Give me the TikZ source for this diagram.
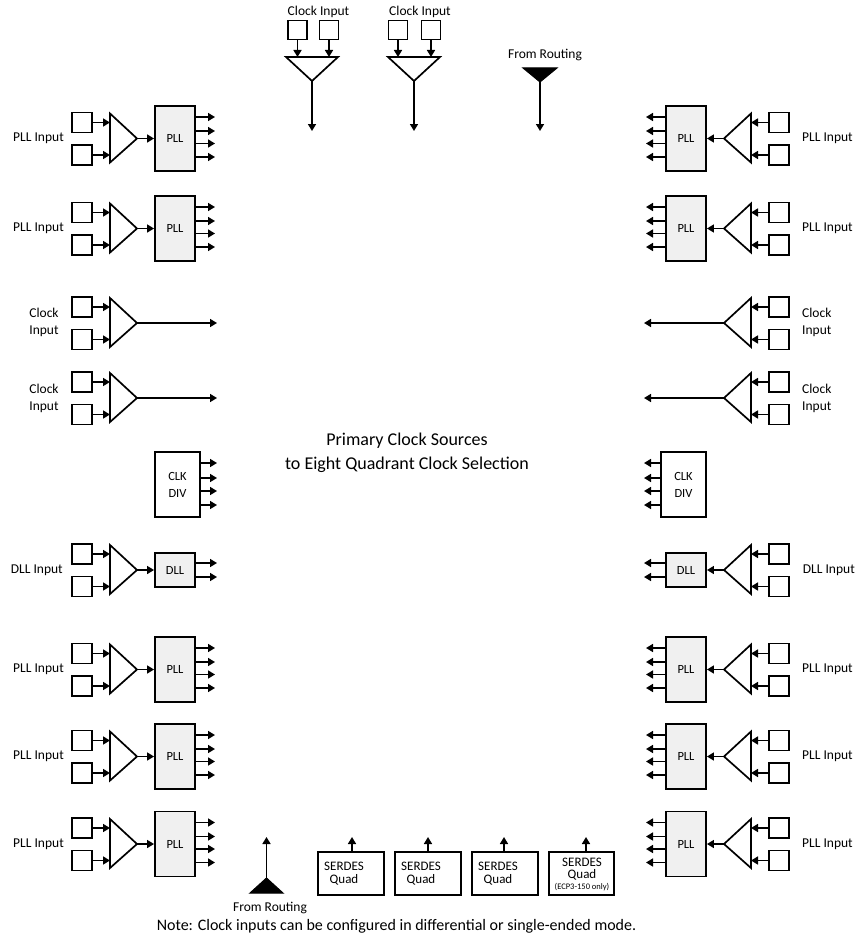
\documentclass[tikz,border=0pt]{standalone}
\usepackage{fontspec}
\setmainfont{Carlito}
\usetikzlibrary{arrows.meta}
% input stage: two pads and an amplifier; #1 name, #2 row y, #3 anchor of the pads facing the amplifier
\newcommand\instage[3]{%
  \node[insq] (#1a) at (82,#2-16) {};
  \node[insq] (#1b) at (82,#2+16.5) {};
  \coordinate (#1u) at (110,#2-25);
  \coordinate (#1d) at (110,#2+24);
  \coordinate (#1p) at (137,#2);
  \draw[amp] (#1u) -- (#1p) -- (#1d) -- cycle;
  \draw[arr] (#1a.#3) -- (#1a.#3 -| #1u);
  \draw[arr] (#1b.#3) -- (#1b.#3 -| #1u);
}
% PLL block: #1 name, #2 row y, #3 input anchor, #4 output anchor
\newcommand\pllbox[4]{%
  \node[pllb] (#1box) at (175,#2) {PLL};
  \draw[arr] (#1p) -- (#1box.#3);
  \foreach \dy [count=\k] in {-21.5,-7.5,5,18.5} {
    \coordinate (#1o\k) at (215,#2+\dy);
    \draw[arr] (#1box.#4 |- #1o\k) -- (#1o\k);
  }
}
% one whole side; #1 prefix, #2 anchor towards the centre, #3 anchor away from it
\newcommand\sideblocks[3]{%
  \instage{#1a}{138.5}{#2}\pllbox{#1a}{138.5}{#3}{#2}
  \instage{#1b}{228.5}{#2}\pllbox{#1b}{228.5}{#3}{#2}
  \instage{#1c}{323}{#2}
  \coordinate (#1ce) at (217,323); \draw[arr] (#1cp) -- (#1ce);
  \instage{#1d}{398}{#2}
  \coordinate (#1de) at (217,398); \draw[arr] (#1dp) -- (#1de);
  \node[divb] (#1div) at (177.5,484.5) {CLK\\DIV};
  \foreach \dy [count=\k] in {-21.5,-6.5,6.5,20.5} {
    \coordinate (#1dv\k) at (217,484.5+\dy);
    \draw[arr] (#1div.#2 |- #1dv\k) -- (#1dv\k);
  }
  \instage{#1e}{570}{#2}
  \node[pllb,minimum height=34pt] (#1ebox) at (175,570) {DLL};
  \draw[arr] (#1ep) -- (#1ebox.#3);
  \foreach \dy [count=\k] in {-7,7} {
    \coordinate (#1eo\k) at (217,570+\dy);
    \draw[arr] (#1ebox.#2 |- #1eo\k) -- (#1eo\k);
  }
  \instage{#1f}{669.5}{#2}\pllbox{#1f}{669.5}{#3}{#2}
  \instage{#1g}{756.5}{#2}\pllbox{#1g}{756.5}{#3}{#2}
  \instage{#1h}{844}{#2}\pllbox{#1h}{844}{#3}{#2}
}
\begin{document}
\begin{tikzpicture}[x=1pt,y=-1pt,
  arr/.style={line width=1.6pt,-{Triangle[length=7pt,width=8pt]}},
  insq/.style={draw,line width=1.7pt,minimum size=20pt,inner sep=0pt},
  amp/.style={draw,line width=1.7pt,line join=miter},
  pllb/.style={draw,line width=1.9pt,fill=black!6,minimum width=40pt,minimum height=65pt,inner sep=0pt,font=\fontsize{12.5}{15}\selectfont},
  divb/.style={draw,line width=1.9pt,fill=white,minimum width=45pt,minimum height=65pt,inner sep=0pt,align=center,font=\fontsize{12.5}{17}\selectfont},
  serb/.style={draw,line width=1.9pt,minimum width=66pt,minimum height=43pt,inner sep=0pt},
  sertxt/.style={inner sep=0pt,align=center,font=\fontsize{13}{13}\selectfont},
  lab/.style={inner sep=0pt,font=\fontsize{13.5}{17}\selectfont},
  route/.style={fill=black,draw=black,line width=1pt,line join=miter}
]
\path[use as bounding box,fill=white] (0,0) rectangle (856,942);

% left side
\sideblocks{L}{east}{west}
% right side (mirror image)
\begin{scope}[shift={(861,0)},xscale=-1]
\sideblocks{R}{west}{east}
\end{scope}

% side labels
\foreach \y [count=\k] in {138.5,228.5,669.5,756.5,844} {
  \node[lab,anchor=east] (lpl\k) at (64,\y) {PLL Input};
  \node[lab,anchor=west] (rpl\k) at (802,\y) {PLL Input};
}
\node[lab,align=center] (lcl1) at (44,322.5) {Clock\\Input};
\node[lab,align=center] (lcl2) at (44,398.5) {Clock\\Input};
\node[lab,align=left,anchor=west] (rcl1) at (802,322.5) {Clock\\Input};
\node[lab,align=left,anchor=west] (rcl2) at (802,398.5) {Clock\\Input};
\node[lab,anchor=east] (ldl) at (63,570) {DLL Input};
\node[lab,anchor=east] (rdl) at (855,570) {DLL Input};

% top clock inputs
\node[insq,minimum size=19pt] (t1a) at (297.5,30) {};
\node[insq,minimum size=19pt] (t1b) at (329,30) {};
\coordinate (t1l) at (286,57); \coordinate (t1r) at (338,57); \coordinate (t1p) at (312,81);
\draw[amp] (t1l) -- (t1r) -- (t1p) -- cycle;
\draw[arr] (t1a.south) -- (t1a.south |- t1l);
\draw[arr] (t1b.south) -- (t1b.south |- t1l);
\coordinate (t1e) at (312,131); \draw[arr] (t1p) -- (t1e);
\node[lab] (t1lab) at (318.5,12) {Clock Input};

\node[insq,minimum size=19pt] (t2a) at (398,30) {};
\node[insq,minimum size=19pt] (t2b) at (431,30) {};
\coordinate (t2l) at (388,57); \coordinate (t2r) at (440,57); \coordinate (t2p) at (414,81);
\draw[amp] (t2l) -- (t2r) -- (t2p) -- cycle;
\draw[arr] (t2a.south) -- (t2a.south |- t2l);
\draw[arr] (t2b.south) -- (t2b.south |- t2l);
\coordinate (t2e) at (414,131); \draw[arr] (t2p) -- (t2e);
\node[lab] (t2lab) at (420,12) {Clock Input};

% top routing
\coordinate (r1l) at (523,68); \coordinate (r1r) at (557,68); \coordinate (r1p) at (540,82);
\draw[route] (r1l) -- (r1r) -- (r1p) -- cycle;
\coordinate (r1e) at (540,131); \draw[arr] (r1p) -- (r1e);
\node[lab] (r1lab) at (545,55) {From Routing};

% bottom routing
\coordinate (r2l) at (250,893); \coordinate (r2r) at (283,893); \coordinate (r2p) at (266.5,878);
\draw[route] (r2l) -- (r2r) -- (r2p) -- cycle;
\coordinate (r2e) at (266.5,837); \draw[arr] (r2p) -- (r2e);
\node[lab] (r2lab) at (270,908) {From Routing};

% SERDES quads
\node[serb] (s1) at (351,873.5) {};
\node[serb] (s2) at (428,873.5) {};
\node[serb] (s3) at (505,873.5) {};
\node[serb,minimum width=65pt] (s4) at (581.5,873.5) {};
\node[sertxt] (s1t) at (344,873.5) {SERDES\\Quad};
\node[sertxt] (s2t) at (421,873.5) {SERDES\\Quad};
\node[sertxt] (s3t) at (498,873.5) {SERDES\\Quad};
\node[sertxt] (s4t) at (582,874.5) {SERDES\\[-1pt]Quad\\[-2pt]{\fontsize{8.5}{9}\selectfont (ECP3-150 only)}};
\coordinate (s1e) at (352,837); \draw[arr] (s1.north -| s1e) -- (s1e);
\coordinate (s2e) at (428,837); \draw[arr] (s2.north -| s2e) -- (s2e);
\coordinate (s3e) at (504,837); \draw[arr] (s3.north -| s3e) -- (s3e);
\coordinate (s4e) at (586,837); \draw[arr] (s4.north -| s4e) -- (s4e);

% centre title and note
\node[inner sep=0pt,align=center,font=\fontsize{18}{24}\selectfont] (title) at (407,453) {Primary Clock Sources\\to Eight Quadrant Clock Selection};
\node[inner sep=0pt,font=\fontsize{16}{18}\selectfont] (note) at (396.5,926) {Note: Clock inputs can be configured in differential or single-ended mode.};
\end{tikzpicture}
\end{document}
